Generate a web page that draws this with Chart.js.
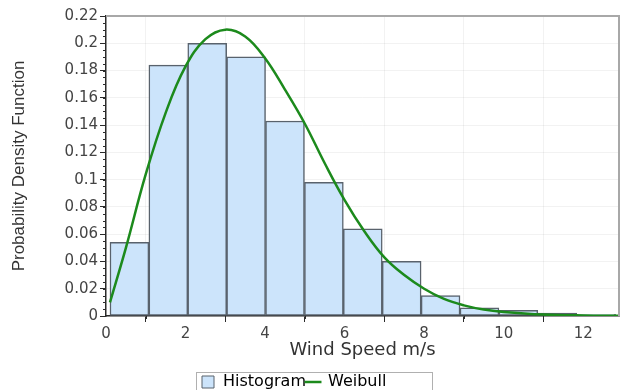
<!DOCTYPE html>
<html>
<head>
<meta charset="utf-8">
<script src="https://cdn.jsdelivr.net/npm/chart.js@4.4.0/dist/chart.umd.min.js"></script>
<style>
  html, body { margin: 0; padding: 0; background: #fff; }
</style>
</head>
<body>
<canvas id="windChart" width="628" height="390"></canvas>
<script>
// Histogram bins: start at 0.1 m/s, each about 0.98 m/s wide
const binStart = 0.1;
const binWidth = 0.978;
const histValues = [0.054, 0.184, 0.200, 0.190, 0.143, 0.098, 0.064, 0.040, 0.015, 0.006, 0.0042, 0.0022, 0.0012];

// Weibull fit, points
const weibullX = [0.1, 0.5, 1.0, 1.5, 2.0, 2.5, 3.0, 3.5, 4.0, 4.5, 5.0, 5.5, 6.0, 6.5, 7.0, 7.5, 8.0, 8.5, 9.0, 9.5, 10.0, 11.0, 12.0, 12.9];
const weibullY = [0.010, 0.050, 0.104, 0.149, 0.183, 0.203, 0.210, 0.205, 0.189, 0.166, 0.141, 0.112, 0.085, 0.062, 0.043, 0.030, 0.020, 0.0125, 0.0078, 0.0047, 0.003, 0.0011, 0.0004, 0.0002];

// Axis ranges and steps
const xRange = [0, 12.9];
const yRange = [0, 0.22];
const xStep = 2;
const yStep = 0.02;
const xMinorStep = 1;
const yMinorStep = 0.005;

const barFill = '#cce4fb';
const barEdge = '#59626c';
const curveColor = '#1c8a1c';

// bar centres from the bin edges
const histPoints = histValues.map((v, i) => ({ x: binStart + binWidth * (i + 0.5), y: v }));
const weibullPoints = weibullX.map((x, i) => ({ x: x, y: weibullY[i] }));

// frame, minor ticks and the boxed legend
const framePlugin = {
    id: 'frame',
    afterLayout(chart) {
        // push the legend a bit lower and to the left, like the original
        const lg = chart.legend;
        const w = lg.right - lg.left;
        lg.top += 10;
        lg.bottom += 10;
        lg.left = 201;
        lg.right = 201 + w;
    },
    afterDraw(chart) {
        const { ctx, chartArea: a, scales } = chart;
        ctx.save();
        ctx.strokeStyle = '#a8a8a8';
        ctx.lineWidth = 2;
        ctx.beginPath();
        ctx.moveTo(a.left, a.top);
        ctx.lineTo(a.right, a.top);
        ctx.lineTo(a.right, a.bottom);
        ctx.stroke();

        // minor tick marks
        ctx.strokeStyle = '#2b2b2b';
        ctx.lineWidth = 1;
        ctx.beginPath();
        for (let v = yRange[0]; v <= yRange[1] + 1e-9; v += yMinorStep) {
            const py = Math.round(scales.y.getPixelForValue(v)) + 0.5;
            ctx.moveTo(a.left - 3, py);
            ctx.lineTo(a.left, py);
        }
        for (let v = xRange[0] + xMinorStep; v <= xRange[1]; v += xStep) {
            const px = Math.round(scales.x.getPixelForValue(v)) + 0.5;
            ctx.moveTo(px, a.bottom);
            ctx.lineTo(px, a.bottom + 3);
        }
        ctx.stroke();

        // legend border
        const lg = chart.legend;
        ctx.strokeStyle = '#b0b0b0';
        ctx.strokeRect(196.5, lg.top - 1.5, 236, chart.height - lg.top + 4);
        ctx.restore();
    }
};

const ctx = document.getElementById('windChart').getContext('2d');

new Chart(ctx, {
    data: {
        datasets: [{
            type: 'line',
            label: 'Weibull',
            data: weibullPoints,
            borderColor: curveColor,
            borderWidth: 2.5,
            pointRadius: 0,
            fill: false,
            tension: 0.4,
            order: 1
        }, {
            type: 'bar',
            label: 'Histogram',
            data: histPoints,
            backgroundColor: barFill,
            borderColor: barEdge,
            borderWidth: 1.5,
            borderSkipped: false,
            barPercentage: 1,
            categoryPercentage: 1,
            grouped: false,
            order: 2
        }]
    },
    options: {
        responsive: false,
        animation: false,
        devicePixelRatio: 1,
        layout: { padding: { top: 16, right: 9, left: 0, bottom: 0 } },
        plugins: {
            tooltip: { enabled: false },
            legend: {
                position: 'bottom',
                align: 'start',
                labels: {
                    usePointStyle: true,
                    boxWidth: 14,
                    boxHeight: 12,
                    padding: 0,
                    color: '#333',
                    font: { family: 'DejaVu Sans', size: 16, lineHeight: 1 },
                    generateLabels: () => [
                        { text: 'Histogram', fillStyle: barFill, strokeStyle: barEdge, lineWidth: 1, pointStyle: 'rect', datasetIndex: 1 },
                        { text: 'Weibull', fillStyle: curveColor, strokeStyle: curveColor, lineWidth: 2.5, pointStyle: 'line', datasetIndex: 0 }
                    ]
                }
            }
        },
        scales: {
            x: {
                type: 'linear',
                min: xRange[0],
                max: xRange[1],
                offset: false,
                afterFit: (s) => { s.height = 48; },
                border: { display: true, color: '#2b2b2b', width: 1.5 },
                grid: { color: 'rgba(0,0,0,0.05)', tickColor: '#2b2b2b', tickLength: 6 },
                ticks: {
                    stepSize: xStep,
                    includeBounds: false,
                    padding: 3,
                    color: '#444',
                    font: { family: 'DejaVu Sans', size: 15 }
                },
                title: {
                    display: true,
                    text: 'Wind Speed m/s',
                    color: '#333',
                    padding: { top: 0, bottom: 3 },
                    font: { family: 'DejaVu Sans', size: 18 }
                }
            },
            y: {
                min: yRange[0],
                max: yRange[1],
                afterFit: (s) => { s.width = 106; },
                border: { display: true, color: '#2b2b2b', width: 1.5 },
                grid: { color: 'rgba(0,0,0,0.05)', tickColor: '#2b2b2b', tickLength: 6 },
                ticks: {
                    stepSize: yStep,
                    includeBounds: false,
                    padding: 2,
                    color: '#444',
                    font: { family: 'DejaVu Sans', size: 15 },
                    callback: (v) => String(+v.toFixed(2))
                },
                title: {
                    display: true,
                    text: 'Probability Density Function',
                    color: '#333',
                    padding: { top: 9, bottom: 0 },
                    font: { family: 'Liberation Sans', size: 17 }
                }
            }
        }
    },
    plugins: [framePlugin]
});
</script>
</body>
</html>
